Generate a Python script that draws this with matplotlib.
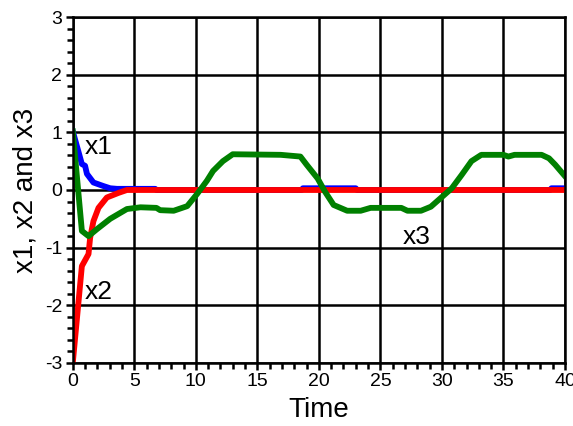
import matplotlib.pyplot as plt
from matplotlib.ticker import MultipleLocator

# x1 (blue)
t1 = [0, 0.74, 1.0, 1.15, 1.68, 2.47, 3.04, 3.6, 4.2, 5.0, 6.0, 6.7, 6.8,
      18.6, 18.7, 23.0, 23.1, 38.8, 38.9, 40]
x1 = [1.02, 0.45, 0.42, 0.28, 0.13, 0.07, 0.03, 0.02, 0.02, 0.02, 0.02, 0.02, 0,
      0, 0.03, 0.03, 0, 0, 0.03, 0.03]

# x2 (red)
t2 = [0, 0.74, 1.28, 1.41, 1.68, 2.09, 2.77, 3.72, 4.4, 40]
x2 = [-3.0, -1.32, -1.11, -0.83, -0.54, -0.31, -0.13, -0.05, 0, 0]

# x3 (green)
t3 = [0, 0.74, 1.28, 1.96, 3.04, 4.4, 5.5, 6.8, 7.1, 8.2, 9.3, 10.1, 10.9, 11.4,
      12.2, 13.0, 16.9, 18.5, 19.0, 19.9, 20.5, 21.2, 22.3, 23.4, 24.2, 26.7,
      27.2, 28.3, 29.1, 29.9, 30.8, 31.6, 32.4, 33.2, 35.0, 35.4, 35.9, 38.1,
      38.7, 39.2, 40]
x3 = [1.02, -0.71, -0.8, -0.68, -0.5, -0.33, -0.3, -0.31, -0.35, -0.36, -0.28,
      -0.07, 0.16, 0.33, 0.5, 0.62, 0.61, 0.58, 0.44, 0.2, -0.03, -0.26, -0.36,
      -0.36, -0.31, -0.31, -0.36, -0.36, -0.29, -0.14, 0.03, 0.26, 0.5, 0.61,
      0.61, 0.58, 0.61, 0.61, 0.55, 0.44, 0.24]

plt.rcParams['font.family'] = ['Liberation Sans', 'DejaVu Sans']

fig = plt.figure(figsize=(5.73, 4.26), dpi=100)
ax = fig.add_axes([0.127, 0.148, 0.859, 0.812])

lw = 4.2
ax.plot(t1, x1, color='#0000ff', linewidth=lw)
ax.plot(t2, x2, color='#ff0000', linewidth=lw)
ax.plot(t3, x3, color='#008000', linewidth=lw)

ax.text(1.0, 0.62, 'x1', fontsize=19, va='baseline')
ax.text(1.0, -1.89, 'x2', fontsize=19, va='baseline')
ax.text(26.8, -0.93, 'x3', fontsize=19, va='baseline')

ax.set_xlim(0, 40)
ax.set_ylim(-3, 3)
ax.xaxis.set_major_locator(MultipleLocator(5))
ax.xaxis.set_minor_locator(MultipleLocator(1))
ax.yaxis.set_major_locator(MultipleLocator(1))
ax.yaxis.set_minor_locator(MultipleLocator(0.2))
ax.set_yticks(range(-3, 4))
ax.set_yticklabels([str(v) for v in range(-3, 4)])

ax.grid(True, which='major', color='black', linewidth=1.8)
for s in ax.spines.values():
    s.set_linewidth(1.8)
ax.tick_params(which='major', direction='out', length=5, width=1.8,
               labelsize=14, pad=2.5)
ax.tick_params(which='minor', direction='out', length=4, width=1.8)
ax.tick_params(top=False, right=False)

ax.set_xlabel('Time', fontsize=20, labelpad=5)
ax.set_ylabel('x1, x2 and x3', fontsize=20, labelpad=5)

fig.savefig('out.png', dpi=100)
